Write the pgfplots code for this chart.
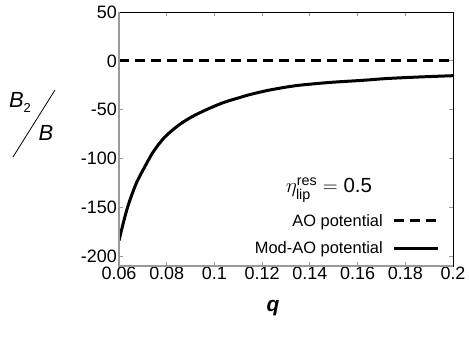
\documentclass[border=0pt]{standalone}
\usepackage{pgfplots}
\pgfplotsset{compat=1.18}
\usepackage{amsmath}
\usepackage{fontspec}
\setmainfont{Liberation Sans}
\definecolor{axgray}{gray}{0.6}
\begin{document}
\begin{tikzpicture}
\begin{axis}[
    name=ax,
    scale only axis,
    width=334bp, height=254bp,
    xmin=0.06, xmax=0.2,
    ymin=-210, ymax=50,
    xtick={0.06,0.08,0.1,0.12,0.14,0.16,0.18,0.2},
    xticklabels={0.06,0.08,0.1,0.12,0.14,0.16,0.18,0.2},
    ytick={-200,-150,-100,-50,0,50},
    yticklabels={-200,-150,-100,-50,0,50},
    tick align=inside,
    major tick length=4bp,
    tick style={axgray, line width=0.8bp},
    axis line style={black, line width=0.8bp},
    ticklabel style={font=\fontsize{18}{18}\selectfont},
    xticklabel style={inner sep=1bp},
    yticklabel style={inner sep=2bp},
    legend style={draw=none, fill=none, font=\fontsize{16.5}{16.5}\selectfont,
        at={(0.97,0.025)}, anchor=south east, row sep=10.5bp},
    legend cell align=right,
    legend plot pos=right,
    legend image code/.code={\path (0bp,0bp); \draw[#1] (8bp,0bp) -- (52bp,0bp);},
]
% AO potential
\addplot[black, line width=3bp, dash pattern=on 10bp off 6bp]
coordinates {(0.06,0) (0.2,0)};
\addlegendentry{AO potential}

% Mod-AO potential
\addplot[black, line width=3bp, smooth]
coordinates {
(0.06,-184) (0.0618,-166) (0.0639,-147.5) (0.0672,-125.6) (0.0709,-108)
(0.0744,-93) (0.079,-78.5) (0.0845,-66.8) (0.09,-58) (0.0968,-49.8)
(0.104,-42.5) (0.1107,-37.5) (0.1149,-34.5) (0.1233,-29.8) (0.1345,-25.3)
(0.1484,-22.1) (0.1624,-19.9) (0.1722,-18.1) (0.186,-16.5) (0.2,-15.2)
};
\addlegendentry{Mod-AO potential}
\end{axis}

\draw[axgray, line width=1.6bp] (ax.north west) -- (ax.south west) -- (ax.south east);

\begin{scope}[shift={(ax.south west)}]
    % y label as slanted fraction
    \node[font=\fontsize{22}{22}\selectfont] at (-99bp,164bp)
        {\textit{B}\raisebox{-5bp}{\fontsize{13}{13}\selectfont 2}};
    \draw[line width=0.8bp] (-106bp,109bp) -- (-64bp,176bp);
    \node[font=\fontsize{22}{22}\selectfont\itshape] at (-73bp,133bp) {B};
    % annotation
    \node[font=\fontsize{20.5}{20.5}\selectfont] at (210bp,76bp)
        {$\eta^{\text{res}}_{\text{lip}} = \text{0.5}$};
    % x label
    \node[font=\fontsize{21}{21}\selectfont\bfseries\itshape] at (154bp,-42bp) {q};
    \path (-119bp,-86bp) rectangle (350bp,266bp);
\end{scope}
\end{tikzpicture}
\end{document}
